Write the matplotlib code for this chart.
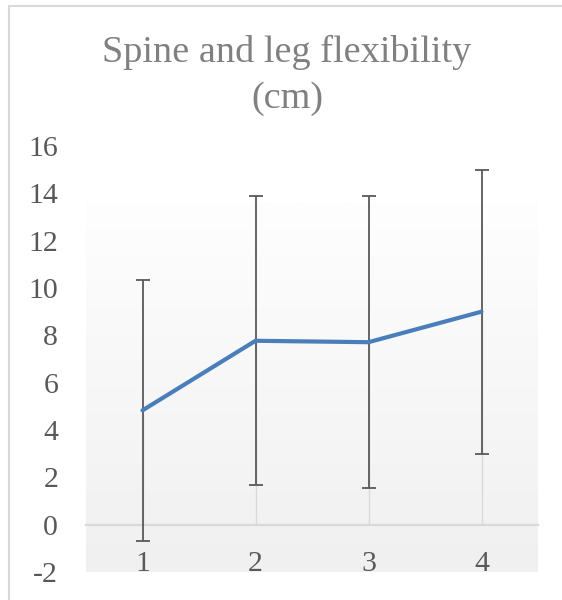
import matplotlib
matplotlib.use("Agg")
import matplotlib.pyplot as plt
import matplotlib.patches as patches
import numpy as np

categories = [1, 2, 3, 4]
means = [4.83, 7.77, 7.71, 9.0]
errors = [5.52, 6.11, 6.16, 6.0]
y_ticks = [-2, 0, 2, 4, 6, 8, 10, 12, 14, 16]
title_lines = ["Spine and leg flexibility", "(cm)"]

plt.rcParams["font.family"] = ["Liberation Serif", "DejaVu Serif"]
plt.rcParams["axes.unicode_minus"] = False

fig = plt.figure(figsize=(5.62, 6.0), dpi=100)
ax = fig.add_axes([86 / 562, 28 / 600, 452 / 562, 426 / 600])
ax.set_xlim(0.5, 4.5)
ax.set_ylim(-2, 16)

# plot area with soft gradient (top edge sits a bit below 16)
area_top = 13.6
grad = np.linspace(0, 1, 256).reshape(-1, 1)
ax.imshow(grad, cmap=matplotlib.colors.LinearSegmentedColormap.from_list(
    "bg", ["#f0f0f0", "#fefefe"]), origin="lower", aspect="auto",
    extent=[0.5, 4.5, -2, area_top], zorder=0)

# drop lines from each point to the axis
ax.vlines(categories, 0, means, color="#d9d9d9", lw=1.0, zorder=1)

ax.errorbar(categories, means, yerr=errors, fmt="none", ecolor="#595959",
            elinewidth=1.3, capsize=4.7, capthick=1.3, zorder=2)
ax.plot(categories, means, color="#4a7ebb", lw=3.0, solid_capstyle="round",
        zorder=3)

for s in ["top", "left", "right"]:
    ax.spines[s].set_visible(False)
ax.spines["bottom"].set_position(("data", 0))
ax.spines["bottom"].set_color("#d9d9d9")
ax.spines["bottom"].set_linewidth(1.6)
ax.spines["bottom"].set_zorder(1)
ax.set_xticks(categories)
ax.set_yticks(y_ticks)
ax.tick_params(length=0, labelsize=21.5, labelcolor="#595959")
ax.tick_params(axis="y", pad=20)
ax.tick_params(axis="x", pad=19)

# chart border
fig.patches.append(patches.Rectangle((8.5 / 562, -0.1), 1.2, 1.1 - 5.5 / 600,
                                     transform=fig.transFigure, fill=False,
                                     edgecolor="#d9d9d9", lw=1.5))

fig.text(287 / 562, 1 - 62 / 600, title_lines[0], ha="center", va="baseline",
         fontsize=27.5, color="#808080")
fig.text(287 / 562, 1 - 108 / 600, title_lines[1], ha="center", va="baseline",
         fontsize=27.5, color="#808080")

fig.savefig("out.png", dpi=100)
